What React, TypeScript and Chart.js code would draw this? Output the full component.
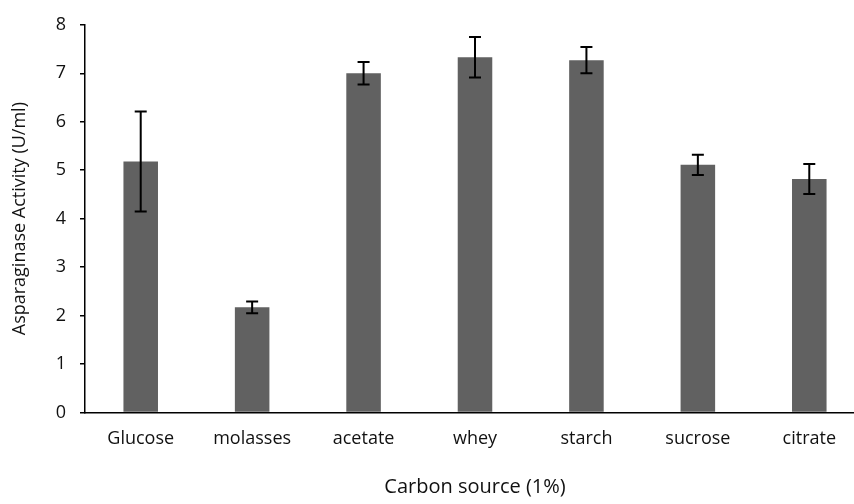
import React, { useEffect, useRef } from "react";
import { Chart, registerables } from "chart.js";

Chart.register(...registerables);

const categories = ["Glucose", "molasses", "acetate", "whey", "starch", "sucrose", "citrate"];
const activity = [5.18, 2.17, 7.0, 7.33, 7.27, 5.11, 4.82];
const errors = [1.03, 0.12, 0.23, 0.42, 0.27, 0.21, 0.31];
const yTicks = [0, 1, 2, 3, 4, 5, 6, 7, 8];

const FONT = "'Open Sans', 'Noto Sans', sans-serif";

const errorBarPlugin = {
  id: "errorBars",
  afterDatasetsDraw(chart: any) {
    const { ctx, scales } = chart;
    const xs = scales.x;
    const ys = scales.y;
    ctx.save();
    ctx.strokeStyle = "#000";
    ctx.lineWidth = 2;
    activity.forEach((v, i) => {
      const x = xs.getPixelForValue(i);
      const yT = ys.getPixelForValue(v + errors[i]);
      const yB = ys.getPixelForValue(v - errors[i]);
      ctx.beginPath();
      ctx.moveTo(x, yT);
      ctx.lineTo(x, yB);
      ctx.moveTo(x - 6, yT);
      ctx.lineTo(x + 6, yT);
      ctx.moveTo(x - 6, yB);
      ctx.lineTo(x + 6, yB);
      ctx.stroke();
    });
    ctx.restore();
  },
};

export default function App() {
  const ref = useRef<HTMLCanvasElement | null>(null);
  useEffect(() => {
    if (!ref.current) return;
    const chart = new Chart(ref.current, {
      type: "bar",
      data: {
        labels: categories,
        datasets: [
          {
            data: activity,
            backgroundColor: "#616161",
            borderWidth: 0,
            barPercentage: 0.31,
            categoryPercentage: 1,
          },
        ],
      },
      options: {
        responsive: false,
        animation: false,
        devicePixelRatio: 1,
        layout: { padding: { top: 23, right: 1, bottom: 0, left: 0 } },
        plugins: { legend: { display: false }, tooltip: { enabled: false } },
        scales: {
          x: {
            grid: { display: false, drawTicks: false },
            border: { display: true, color: "#000", width: 1.5 },
            ticks: { color: "#111", font: { family: FONT, size: 18 }, padding: 16 },
            title: {
              display: true,
              text: "Carbon source (1%)",
              color: "#111",
              font: { family: FONT, size: 20 },
              padding: { top: 0, bottom: 5 },
            },
            afterFit(scale: any) {
              scale.height = 91.5;
            },
          },
          y: {
            min: 0,
            max: 8,
            afterBuildTicks(scale: any) {
              scale.ticks = yTicks.map((v) => ({ value: v }));
            },
            grid: { drawOnChartArea: false, drawTicks: true, tickLength: 5, color: "#000", lineWidth: 1.5 },
            border: { display: true, color: "#000", width: 1.5 },
            ticks: { color: "#111", font: { family: FONT, size: 18 }, padding: 14 },
            title: {
              display: true,
              text: "Asparaginase Activity (U/ml)",
              color: "#111",
              font: { family: FONT, size: 18 },
              padding: { top: 9, bottom: 0 },
            },
            afterFit(scale: any) {
              scale.width = 85;
            },
          },
        },
      },
      plugins: [errorBarPlugin],
    });
    return () => chart.destroy();
  }, []);
  return (
    <div
      style={{
        position: "fixed",
        left: 0,
        top: 0,
        width: 854,
        height: 504,
        overflow: "hidden",
        background: "#fff",
      }}
    >
      <canvas ref={ref} width={866} height={504} style={{ width: 866, height: 504, display: "block" }} />
    </div>
  );
}
